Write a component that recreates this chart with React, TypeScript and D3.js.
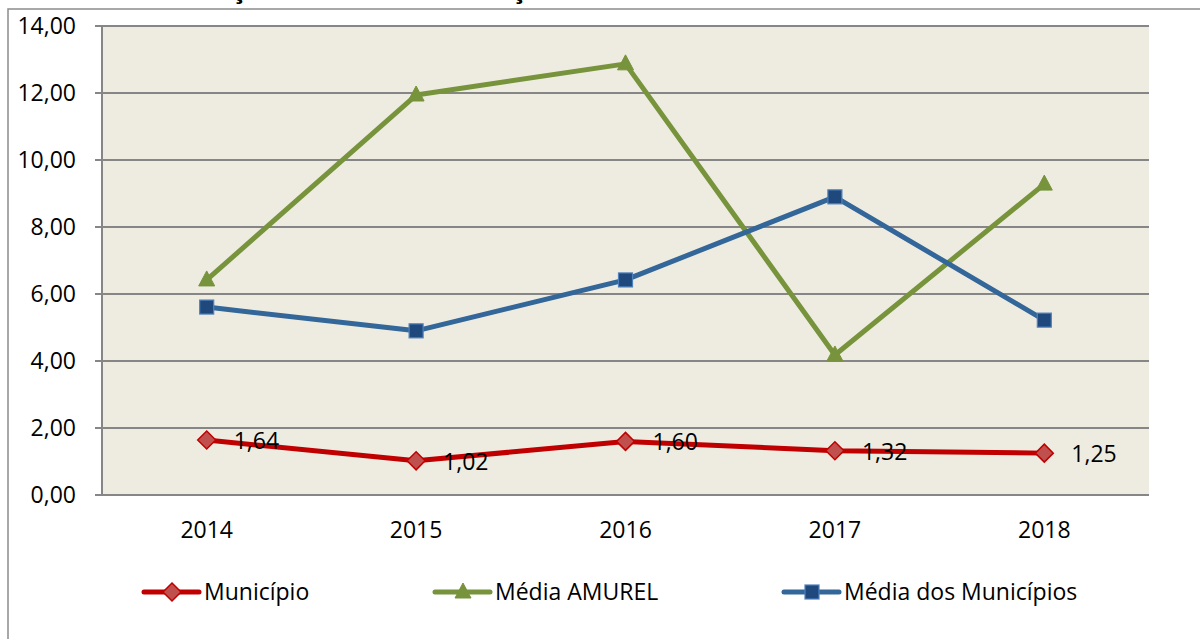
import React from "react";
import * as d3 from "d3";

const years = ["2014", "2015", "2016", "2017", "2018"];
const municipio = [1.64, 1.02, 1.6, 1.32, 1.25];
const mediaAmurel = [6.42, 11.94, 12.87, 4.18, 9.28];
const mediaMunicipios = [5.61, 4.9, 6.42, 8.9, 5.22];
const yTicks = [0, 2, 4, 6, 8, 10, 12, 14];
const seriesNames = ["Município", "Média AMUREL", "Média dos Municípios"];
const titleText = "Gráfico 11 – Evolução do Índice da Situação Financeira – 2014 a 2018";

const W = 1200;
const H = 639;
const plot = { left: 102, right: 1149, top: 26, bottom: 495 };
const FONT = "'Open Sans', sans-serif";
const FS = 23;

const fmt = (v: number) => v.toFixed(2).replace(".", ",");

function Marker({ kind, x, y }: { kind: string; x: number; y: number }) {
  if (kind === "diamond") {
    const s = 9;
    return (
      <path
        d={`M${x},${y - s}L${x + s},${y}L${x},${y + s}L${x - s},${y}Z`}
        fill="#C0504D"
        stroke="#C00000"
        strokeWidth={1.5}
      />
    );
  }
  if (kind === "triangle") {
    const s = 8;
    return (
      <path
        d={`M${x},${y - s - 1}L${x + s},${y + s - 2}L${x - s},${y + s - 2}Z`}
        fill="#77933C"
        stroke="#77933C"
        strokeWidth={1}
      />
    );
  }
  const s = 7;
  return (
    <rect x={x - s} y={y - s} width={2 * s} height={2 * s} fill="#1F497D" stroke="#4F81BD" strokeWidth={1.2} />
  );
}

export default function App() {
  const x = d3.scalePoint<string>().domain(years).range([plot.left, plot.right]).padding(0.5);
  const y = d3.scaleLinear().domain([0, 14]).range([plot.bottom, plot.top]);
  const line = d3
    .line<number>()
    .x((_, i) => x(years[i]) as number)
    .y((d) => y(d));

  const series = [
    { name: seriesNames[0], data: municipio, color: "#C00000", marker: "diamond" },
    { name: seriesNames[1], data: mediaAmurel, color: "#77933C", marker: "triangle" },
    { name: seriesNames[2], data: mediaMunicipios, color: "#336699", marker: "square" },
  ];
  const drawOrder = [1, 2, 0];
  const legendX = [144, 435, 784];
  const legendY = 592;

  return (
    <svg
      width={W}
      height={H}
      viewBox={`0 0 ${W} ${H}`}
      style={{ position: "absolute", left: 0, top: 0, background: "#fff" }}
      fontFamily={FONT}
    >
      <rect width={W} height={H} fill="#fff" />
      <text x={6} y={-1.5} fontSize={20} fontWeight="bold" fill="#000" textLength={866} lengthAdjust="spacingAndGlyphs">
        {titleText}
      </text>
      <rect x={8} y={9} width={W + 10} height={H + 10} fill="none" stroke="#8C8C8C" strokeWidth={1.5} />
      <rect
        x={plot.left}
        y={plot.top}
        width={plot.right - plot.left}
        height={plot.bottom - plot.top}
        fill="#EEECE1"
      />
      {yTicks.map((t) => (
        <g key={t}>
          <line x1={95} x2={plot.right} y1={y(t)} y2={y(t)} stroke="#868686" strokeWidth={2} />
          <text x={76} y={y(t)} dy="0.35em" textAnchor="end" fontSize={FS} fill="#000">
            {fmt(t)}
          </text>
        </g>
      ))}
      <line x1={plot.left} x2={plot.left} y1={plot.top} y2={plot.bottom} stroke="#868686" strokeWidth={2} />
      {years.map((yr) => (
        <text key={yr} x={x(yr)} y={538} textAnchor="middle" fontSize={FS} fill="#000">
          {yr}
        </text>
      ))}
      {drawOrder.map((si) => {
        const s = series[si];
        return (
          <g key={s.name}>
            <path d={line(s.data) || ""} fill="none" stroke={s.color} strokeWidth={5} strokeLinejoin="round" />
            {s.data.map((v, i) => (
              <Marker key={i} kind={s.marker} x={x(years[i]) as number} y={y(v)} />
            ))}
          </g>
        );
      })}
      {municipio.map((v, i) => (
        <text key={i} x={(x(years[i]) as number) + 27} y={y(v) + 1} dy="0.35em" fontSize={FS} fill="#000">
          {fmt(v)}
        </text>
      ))}
      {series.map((s, i) => (
        <g key={s.name}>
          <line
            x1={legendX[i]}
            x2={legendX[i] + 55}
            y1={legendY}
            y2={legendY}
            stroke={s.color}
            strokeWidth={5}
            strokeLinecap="round"
          />
          <Marker kind={s.marker} x={legendX[i] + 28} y={legendY} />
          <text x={legendX[i] + 60} y={legendY} dy="0.35em" fontSize={FS} fill="#000">
            {s.name}
          </text>
        </g>
      ))}
    </svg>
  );
}
